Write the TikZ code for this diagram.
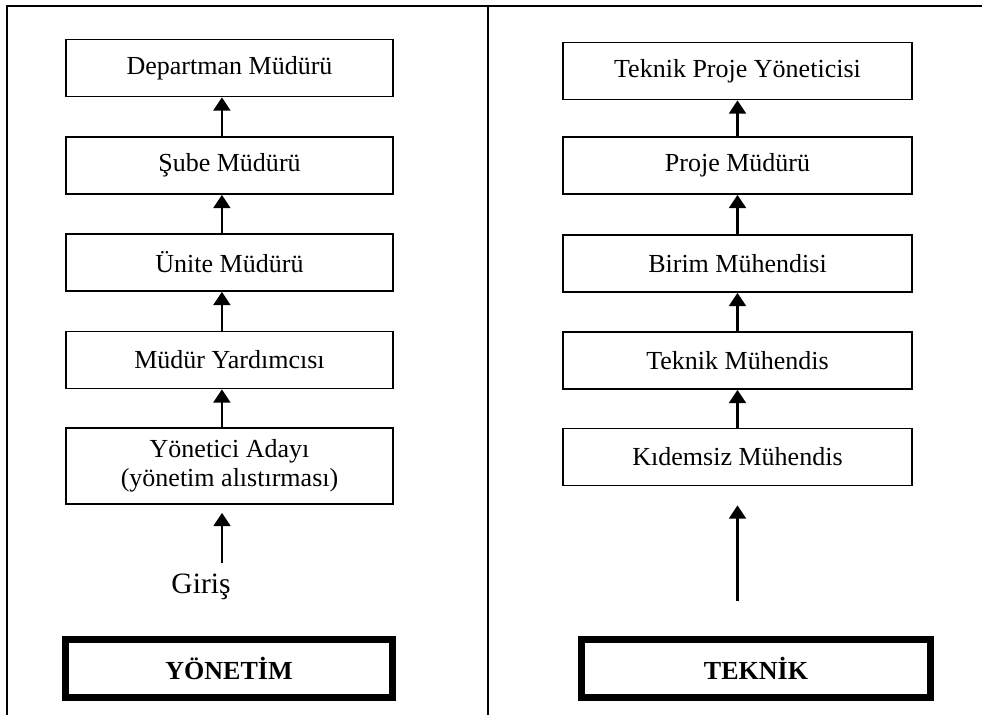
\documentclass[tikz,border=0pt]{standalone}
\usepackage{fontspec}
\setmainfont{Liberation Serif}
\usetikzlibrary{arrows.meta}
\begin{document}
\begin{tikzpicture}[x=0.025cm,y=-0.025cm,
    kutu/.style={draw=black,line width=1.2pt,inner sep=0pt,minimum height=1.425cm,
      font=\fontsize{18.5}{20.6}\selectfont,align=center},
    solkutu/.style={kutu,minimum width=8.175cm},
    sagkutu/.style={kutu,minimum width=8.725cm},
    baslik/.style={draw=black,line width=5pt,inner sep=0pt,minimum height=1.45cm,
      font=\fontsize{18.5}{20.6}\selectfont\bfseries},
    ok/.style={line width=1.6pt,-{Triangle[length=0.33cm,width=0.42cm]}},
    cerceve/.style={line width=1.8pt}]
    \useasboundingbox (0,0) rectangle (982,715);
    \draw[cerceve] (7,715) -- (7,6) -- (982,6);
    \draw[cerceve] (488,6) -- (488,715);
    \node[solkutu] (dm) at (229.5,68) {Departman Müdürü};
    \node[solkutu] (sm) at (229.5,165.5) {Şube Müdürü};
    \node[solkutu] (um) at (229.5,262.5) {Ünite Müdürü};
    \node[solkutu] (my) at (229.5,360) {Müdür Yardımcısı};
    \node[solkutu,minimum height=1.9cm] (ya) at (229.5,466) {Yönetici Adayı\\(yönetim alıstırması)};
    \node[anchor=base,font=\fontsize{21}{24}\selectfont] (giris) at (201,593) {Giriş};
    \coordinate (gk) at (222,563);
    \node[baslik,minimum width=8.175cm] (yon) at (229,668.5) {YÖNETİM};
    \draw[ok] ([xshift=-0.19cm]sm.north) -- ([xshift=-0.19cm]dm.south);
    \draw[ok] ([xshift=-0.19cm]um.north) -- ([xshift=-0.19cm]sm.south);
    \draw[ok] ([xshift=-0.19cm]my.north) -- ([xshift=-0.19cm]um.south);
    \draw[ok] ([xshift=-0.19cm]ya.north) -- ([xshift=-0.19cm]my.south);
    \draw[ok,shorten >=0.2cm] (gk) -- (gk |- ya.south);
    \node[sagkutu] (tpy) at (737.5,71) {Teknik Proje Yöneticisi};
    \node[sagkutu] (pm) at (737.5,165.5) {Proje Müdürü};
    \node[sagkutu] (bm) at (737.5,263.5) {Birim Mühendisi};
    \node[sagkutu] (tm) at (737.5,360.5) {Teknik Mühendis};
    \node[sagkutu] (km) at (737.5,457) {Kıdemsiz Mühendis};
    \coordinate (tk) at (737.5,601);
    \node[baslik,minimum width=8.725cm] (tek) at (756,668.5) {TEKNİK};
    \draw[ok] (pm) -- (tpy);
    \draw[ok] (bm) -- (pm);
    \draw[ok] (tm) -- (bm);
    \draw[ok] (km) -- (tm);
    \draw[ok,shorten >=0.475cm] (tk) -- (km.south);
\end{tikzpicture}
\end{document}
